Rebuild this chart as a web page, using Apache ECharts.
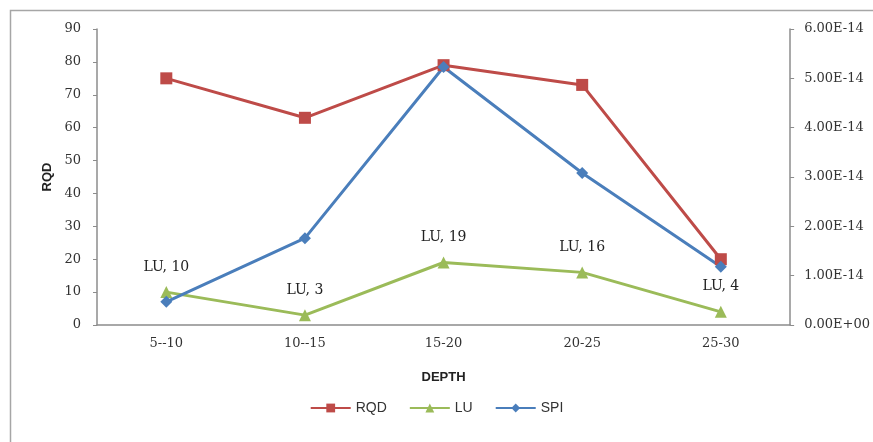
<!DOCTYPE html>
<html>
<head>
<meta charset="utf-8">
<script src="https://cdn.jsdelivr.net/npm/echarts@6/dist/echarts.min.js"></script>
<style>
  html, body { margin: 0; padding: 0; background: #fff; }
  #chart { width: 873px; height: 442px; }
</style>
</head>
<body>
<div id="chart"></div>
<script>
// depth intervals and measured values
const depths = ['5--10', '10--15', '15-20', '20-25', '25-30']
const rqd = [75, 63, 79, 73, 20]
const lu = [10, 3, 19, 16, 4]
const spi = [0.47e-14, 1.76e-14, 5.23e-14, 3.08e-14, 1.18e-14]

const serif = '"DejaVu Serif", "Liberation Serif", serif'
const sans = '"Liberation Sans", Arial, sans-serif'

function sci(v) {
  const s = v.toExponential(2).toUpperCase()
  return s.replace(/E([+-])(\d)$/, 'E$10$2')
}

const chart = echarts.init(document.getElementById('chart'))
chart.setOption({
  animation: false,
  graphic: [{
    type: 'rect',
    shape: { x: 10.5, y: 10.5, width: 880, height: 450 },
    style: { fill: 'none', stroke: '#a6a6a6', lineWidth: 1.5 },
  }],
  grid: { left: 97, right: 82, top: 29, bottom: 117 },
  legend: {
    bottom: 22,
    left: 'center',
    itemWidth: 40,
    itemHeight: 11,
    itemGap: 22,
    textStyle: { fontFamily: sans, fontSize: 14, color: '#333' },
    data: ['RQD', 'LU', 'SPI'],
  },
  xAxis: {
    type: 'category',
    data: depths,
    name: 'DEPTH',
    nameLocation: 'middle',
    nameGap: 46,
    nameTextStyle: { fontFamily: sans, fontWeight: 'bold', fontSize: 13, color: '#222' },
    axisLine: { lineStyle: { color: '#8c8c8c', width: 1.5 } },
    axisTick: { show: false },
    axisLabel: { fontFamily: serif, fontSize: 13, color: '#333', margin: 12 },
  },
  yAxis: [{
    type: 'value',
    min: 0, max: 90, interval: 10,
    name: 'RQD',
    nameLocation: 'middle',
    nameGap: 42,
    nameTextStyle: { fontFamily: sans, fontWeight: 'bold', fontSize: 13, color: '#222' },
    axisLine: { show: true, lineStyle: { color: '#8c8c8c', width: 1.5 } },
    axisTick: { show: true, length: 4, lineStyle: { color: '#8c8c8c' } },
    splitLine: { show: false },
    axisLabel: { fontFamily: serif, fontSize: 13, color: '#333', margin: 16 },
  }, {
    type: 'value',
    min: 0, max: 6e-14, interval: 1e-14,
    position: 'right',
    axisLine: { show: true, lineStyle: { color: '#8c8c8c', width: 1.5 } },
    axisTick: { show: true, length: 4, lineStyle: { color: '#8c8c8c' } },
    splitLine: { show: false },
    axisLabel: { fontFamily: serif, fontSize: 13, color: '#333', margin: 14, formatter: sci },
  }],
  series: [{
    name: 'RQD',
    type: 'line',
    data: rqd,
    symbol: 'rect',
    symbolSize: 12,
    lineStyle: { color: '#be4b48', width: 3 },
    itemStyle: { color: '#be4b48' },
  }, {
    name: 'LU',
    type: 'line',
    data: lu,
    symbol: 'triangle',
    symbolSize: 12,
    lineStyle: { color: '#9bbb59', width: 3 },
    itemStyle: { color: '#9bbb59' },
    label: {
      show: true,
      position: 'top',
      distance: 12,
      fontFamily: serif,
      fontSize: 14,
      color: '#222',
      formatter: p => 'LU, ' + p.value,
    },
  }, {
    name: 'SPI',
    type: 'line',
    yAxisIndex: 1,
    data: spi,
    symbol: 'diamond',
    symbolSize: 12,
    lineStyle: { color: '#4a7ebb', width: 3 },
    itemStyle: { color: '#4a7ebb' },
  }],
})
</script>
</body>
</html>
